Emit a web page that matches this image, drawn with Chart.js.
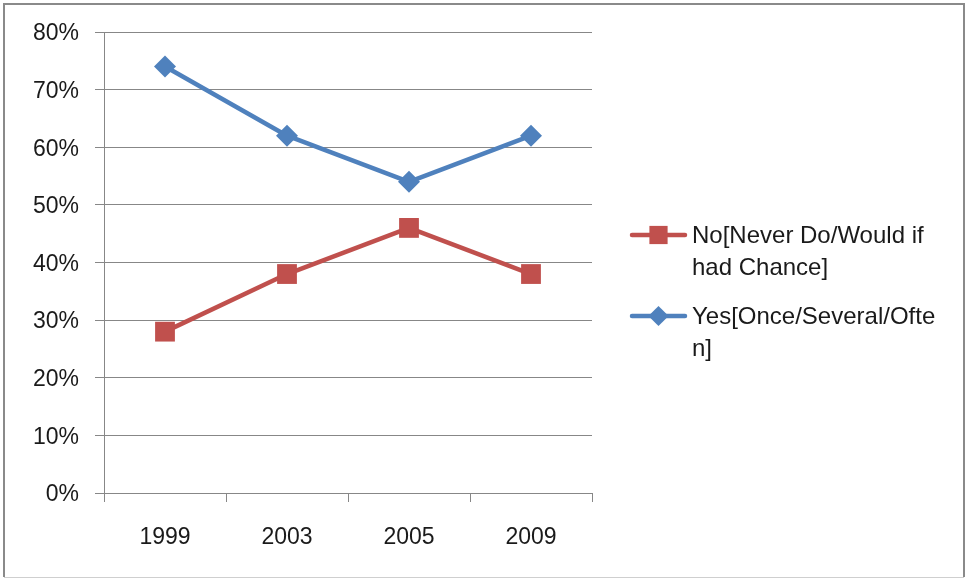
<!DOCTYPE html>
<html>
<head>
<meta charset="utf-8">
<script src="https://cdn.jsdelivr.net/npm/chart.js@4/dist/chart.umd.min.js"></script>
<style>
  html, body { margin: 0; padding: 0; background: #fff; }
  #wrap { position: relative; width: 966px; height: 579px; }
  canvas { display: block; }
</style>
</head>
<body>
<div id="wrap"><canvas id="chart" width="966" height="579"></canvas></div>
<script>
// Survey years and the share of answers per group (percent)
const years = ['1999', '2003', '2005', '2009'];
const noValues = [28, 38, 46, 38];
const yesValues = [74, 62, 54, 62];
const noLabel = ['No[Never Do/Would if', 'had Chance]'];
const yesLabel = ['Yes[Once/Several/Ofte', 'n]'];
const yTicks = [0, 10, 20, 30, 40, 50, 60, 70, 80];

const FONT = 'Liberation Sans, Arial, sans-serif';
const RED = '#C0504D';
const BLUE = '#4F81BD';
const GRID = '#878787';
const TEXT = '#1a1a1a';

// Frame around the whole figure
const framePlugin = {
  id: 'frame',
  afterDraw(chart) {
    const ctx = chart.ctx;
    ctx.save();
    ctx.strokeStyle = '#8a8a8a';
    ctx.lineWidth = 2;
    ctx.beginPath();
    ctx.moveTo(4, 577);
    ctx.lineTo(4, 4);
    ctx.lineTo(964, 4);
    ctx.lineTo(964, 577);
    ctx.stroke();
    ctx.strokeStyle = '#cfcfcf';
    ctx.lineWidth = 1;
    ctx.beginPath();
    ctx.moveTo(4, 577.5);
    ctx.lineTo(964, 577.5);
    ctx.stroke();
    ctx.restore();
  }
};

// Legend at the right: short line with marker, wrapped label text
const sideLegend = {
  id: 'sideLegend',
  afterDraw(chart) {
    const ctx = chart.ctx;
    const area = chart.chartArea;
    const x0 = area.right + 40;
    const x1 = x0 + 53;
    const tx = x1 + 7;
    const lineGap = 32;
    const rows = [
      { ds: chart.data.datasets[0], y: 235 },
      { ds: chart.data.datasets[1], y: 316 }
    ];
    ctx.save();
    rows.forEach(({ ds, y }) => {
      ctx.strokeStyle = ds.borderColor;
      ctx.lineWidth = ds.borderWidth;
      ctx.lineCap = 'round';
      ctx.beginPath();
      ctx.moveTo(x0, y);
      ctx.lineTo(x1, y);
      ctx.stroke();
      ctx.fillStyle = ds.pointBackgroundColor;
      ctx.strokeStyle = ds.pointBorderColor;
      Chart.helpers.drawPoint(ctx, {
        pointStyle: ds.pointStyle,
        radius: ds.pointRadius * 0.92,
        rotation: 0,
        borderWidth: 0
      }, (x0 + x1) / 2, y);
      ctx.fillStyle = TEXT;
      ctx.font = '24px ' + FONT;
      ctx.textAlign = 'left';
      ctx.textBaseline = 'middle';
      const lines = Array.isArray(ds.label) ? ds.label : [ds.label];
      lines.forEach((t, i) => ctx.fillText(t, tx, y + 1 + i * lineGap));
    });
    ctx.restore();
  }
};

new Chart(document.getElementById('chart'), {
  type: 'line',
  data: {
    labels: years,
    datasets: [
      {
        label: noLabel,
        data: noValues,
        borderColor: RED,
        backgroundColor: RED,
        pointBackgroundColor: RED,
        pointBorderColor: RED,
        borderWidth: 4.5,
        pointStyle: 'rect',
        pointRadius: 14,
        pointBorderWidth: 0,
        pointHoverRadius: 14
      },
      {
        label: yesLabel,
        data: yesValues,
        borderColor: BLUE,
        backgroundColor: BLUE,
        pointBackgroundColor: BLUE,
        pointBorderColor: BLUE,
        borderWidth: 4.5,
        pointStyle: 'rectRot',
        pointRadius: 11,
        pointBorderWidth: 0,
        pointHoverRadius: 11
      }
    ]
  },
  options: {
    responsive: false,
    animation: false,
    devicePixelRatio: 1,
    layout: { padding: { left: 0, right: 374, top: 32, bottom: 0 } },
    elements: { line: { tension: 0, borderJoinStyle: 'round', borderCapStyle: 'round' } },
    plugins: {
      legend: { display: false },
      tooltip: { enabled: false }
    },
    scales: {
      x: {
        type: 'category',
        offset: true,
        grid: {
          offset: true,
          drawOnChartArea: false,
          drawTicks: true,
          tickLength: 9,
          color: GRID,
          lineWidth: 1
        },
        border: { display: true, color: GRID, width: 1 },
        ticks: {
          color: TEXT,
          font: { family: FONT, size: 23 },
          padding: 22,
          maxRotation: 0
        },
        afterFit(scale) { scale.height = 86; }
      },
      y: {
        min: 0,
        max: 80,
        afterBuildTicks(scale) { scale.ticks = yTicks.map(v => ({ value: v })); },
        grid: {
          drawTicks: true,
          tickLength: 9,
          color: GRID,
          lineWidth: 1
        },
        border: { display: true, color: GRID, width: 1 },
        ticks: {
          color: TEXT,
          font: { family: FONT, size: 23 },
          padding: 16,
          labelOffset: 2,
          callback: v => v + '%'
        },
        afterFit(scale) { scale.width = 104; }
      }
    }
  },
  plugins: [framePlugin, sideLegend]
});
</script>
</body>
</html>
